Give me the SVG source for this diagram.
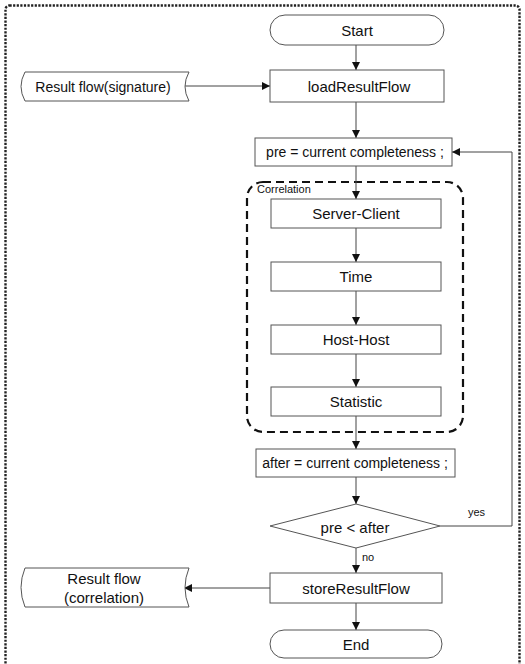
<svg xmlns="http://www.w3.org/2000/svg" width="525" height="664" viewBox="0 0 525 664">
<style>
.bx{fill:#fff;stroke:#555;stroke-width:1}
.t{font-family:"Liberation Sans",Arial,sans-serif;font-size:15px;fill:#111;text-anchor:middle;dominant-baseline:central}
.s{font-size:14px}
.sm{font-family:"Liberation Sans",Arial,sans-serif;font-size:11px;fill:#111}
.ln{fill:none;stroke:#444;stroke-width:1}
</style>
<defs>
<marker id="ah" viewBox="0 0 10 10" refX="10" refY="5" markerWidth="8" markerHeight="8" markerUnits="userSpaceOnUse" orient="auto">
<path d="M0,0 L10,5 L0,10 Z" fill="#111"/>
</marker>
</defs>
<rect width="525" height="664" fill="#fff"/>
<rect id="frame" x="5.5" y="5.5" width="514" height="700" rx="4" fill="none" stroke="#222" stroke-width="2.4" stroke-dasharray="2.2 1.4"/>
<g id="correlation-group">
<rect x="247" y="182" width="216" height="250" rx="16" fill="none" stroke="#111" stroke-width="2.2" stroke-dasharray="8 5"/>
<text x="257" y="189" class="sm" dominant-baseline="central" font-size="11.5">Correlation</text>
</g>
<g id="connectors">
<line class="ln" x1="356" y1="45" x2="356" y2="70" marker-end="url(#ah)"/>
<line class="ln" x1="185" y1="86" x2="270" y2="86" marker-end="url(#ah)"/>
<line class="ln" x1="356" y1="102" x2="356" y2="138" marker-end="url(#ah)"/>
<line class="ln" x1="356" y1="166" x2="356" y2="199" marker-end="url(#ah)"/>
<line class="ln" x1="356" y1="228" x2="356" y2="262" marker-end="url(#ah)"/>
<line class="ln" x1="356" y1="291" x2="356" y2="325" marker-end="url(#ah)"/>
<line class="ln" x1="356" y1="354" x2="356" y2="387" marker-end="url(#ah)"/>
<line class="ln" x1="356" y1="416" x2="356" y2="449" marker-end="url(#ah)"/>
<line class="ln" x1="356" y1="477" x2="356" y2="504" marker-end="url(#ah)"/>
<polyline class="ln" points="440,526 512,526 512,152 452,152" marker-end="url(#ah)"/>
<text x="468" y="516" class="sm">yes</text>
<line class="ln" x1="356" y1="548" x2="356" y2="573" marker-end="url(#ah)"/>
<text x="362" y="561" class="sm">no</text>
<line class="ln" x1="270" y1="588" x2="184" y2="588" marker-end="url(#ah)"/>
<line class="ln" x1="356" y1="603" x2="356" y2="630" marker-end="url(#ah)"/>
</g>
<g id="start"><rect class="bx" x="270" y="15" width="174" height="30" rx="15"/><text class="t" x="357" y="30">Start</text></g>
<g id="sig"><path class="bx" d="M25,72 L189,72 Q181,86.5 189,101 L25,101 Q17,86.5 25,72 Z"/><text class="t s" x="103" y="87">Result flow(signature)</text></g>
<g id="load"><rect class="bx" x="270" y="70" width="174" height="32"/><text class="t" x="359" y="86">loadResultFlow</text></g>
<g id="pre"><rect class="bx" x="255" y="138" width="197" height="28"/><text class="t s" x="355" y="152">pre = current completeness ;</text></g>
<g id="server-client"><rect class="bx" x="271" y="199" width="170" height="29"/><text class="t" x="356" y="213.5">Server-Client</text></g>
<g id="time"><rect class="bx" x="271" y="262" width="170" height="29"/><text class="t" x="356" y="276.5">Time</text></g>
<g id="host-host"><rect class="bx" x="271" y="325" width="170" height="29"/><text class="t" x="356" y="339.5">Host-Host</text></g>
<g id="statistic"><rect class="bx" x="271" y="387" width="170" height="29"/><text class="t" x="356" y="401.5">Statistic</text></g>
<g id="after"><rect class="bx" x="256" y="449" width="199" height="28"/><text class="t s" x="355" y="463">after = current completeness ;</text></g>
<g id="decision"><polygon class="bx" points="356,504 440,526 356,548 270,526"/><text class="t" x="355" y="527">pre &lt; after</text></g>
<g id="store"><rect class="bx" x="270" y="573" width="172" height="30"/><text class="t" x="356" y="588">storeResultFlow</text></g>
<g id="corr-out"><path class="bx" d="M25,568 L189,568 Q181,587.5 189,607 L25,607 Q17,587.5 25,568 Z"/><text class="t" x="104" y="578">Result flow</text><text class="t" x="104" y="597">(correlation)</text></g>
<g id="end"><rect class="bx" x="270" y="630" width="172" height="28" rx="14"/><text class="t" x="356" y="644">End</text></g>
</svg>
